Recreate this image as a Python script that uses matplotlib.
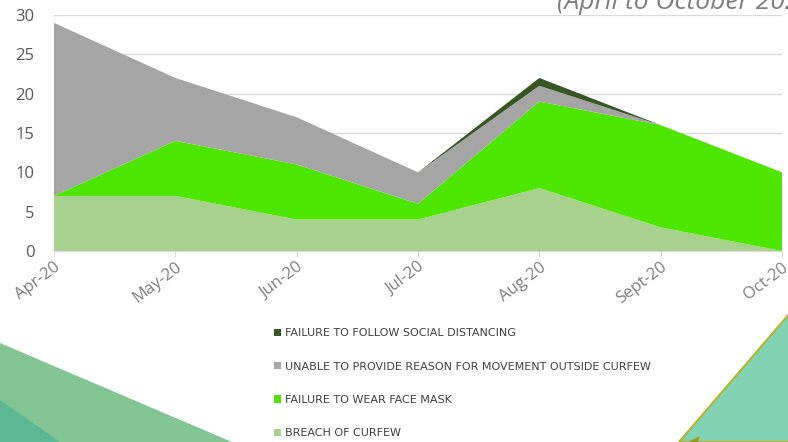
import matplotlib
matplotlib.use('Agg')
import matplotlib.pyplot as plt
from matplotlib.patches import Polygon, Patch
import numpy as np

# data (stacked areas)
months = ['Apr-20', 'May-20', 'Jun-20', 'Jul-20', 'Aug-20', 'Sept-20', 'Oct-20']
breach_curfew = [7, 7, 4, 4, 8, 3, 0]
face_mask = [0, 7, 7, 2, 11, 13, 10]
no_reason = [22, 8, 6, 4, 2, 0, 0]
social_dist = [0, 0, 0, 0, 1, 0, 0]

labels = ['BREACH OF CURFEW',
          'FAILURE TO WEAR FACE MASK',
          'UNABLE TO PROVIDE REASON FOR MOVEMENT OUTSIDE CURFEW',
          'FAILURE TO FOLLOW SOCIAL DISTANCING']
colors = ['#a9d18e', '#4ce600', '#a5a5a5', '#375623']

W, H = 788, 442
fig = plt.figure(figsize=(W / 100, H / 100), dpi=100)
fig.patch.set_facecolor('white')

def px(x, y):
    return (x / W, 1 - y / H)

# decorative background shapes
fig.patches.append(Polygon([px(0, 343), px(232, 442), px(0, 442)], closed=True,
                           transform=fig.transFigure, facecolor='#82c593',
                           edgecolor='none', zorder=0))
fig.patches.append(Polygon([px(0, 400), px(60, 442), px(0, 442)], closed=True,
                           transform=fig.transFigure, facecolor='#5bb894',
                           edgecolor='none', zorder=0))
fig.patches.append(Polygon([px(790, 313), px(790, 442), px(679, 442)], closed=True,
                           transform=fig.transFigure, facecolor='#80d4b4',
                           edgecolor='#b8b22a', linewidth=1.5, zorder=0))
fig.patches.append(Polygon([px(688, 442), px(700, 436), px(698, 442)], closed=True,
                           transform=fig.transFigure, facecolor='#9a9a20',
                           edgecolor='none', zorder=0))

ax = fig.add_axes([54 / W, 1 - 251 / H, (782 - 54) / W, (251 - 15) / H])
ax.set_facecolor('none')

x = np.arange(len(months))
ax.stackplot(x, breach_curfew, face_mask, no_reason, social_dist,
             colors=colors, linewidth=0, zorder=2)

ax.set_xlim(0, len(months) - 1)
ax.set_ylim(0, 30)
ax.set_yticks(range(0, 31, 5))
ax.yaxis.grid(True, color='#d9d9d9', linewidth=1, zorder=0)
ax.set_axisbelow(True)
for s in ['top', 'right', 'left']:
    ax.spines[s].set_visible(False)
ax.spines['bottom'].set_color('#d9d9d9')
ax.tick_params(axis='y', length=0, labelsize=12, labelcolor='#595959', pad=14)
ax.tick_params(axis='x', length=4, color='#d9d9d9', pad=2)
ax.set_xticks(x)
ax.set_xticklabels(months, rotation=37, ha='right', rotation_mode='anchor',
                   fontsize=12, color='#7f7f7f',
                   family=['Open Sans', 'DejaVu Sans'])
for t in ax.get_yticklabels():
    t.set_family(['Open Sans', 'DejaVu Sans'])

# partly cut title at the top right
fig.text(557 / W, 1 - 9 / H, '(April to October 2020)', fontsize=19,
         fontstyle='italic', color='#7f7f7f', family=['Open Sans', 'DejaVu Sans'],
         ha='left', va='baseline')

handles = [Patch(facecolor=c, edgecolor='none') for c in colors][::-1]
leg = fig.legend(handles, labels[::-1], loc='upper left',
                 bbox_to_anchor=(262 / W, 1 - 316 / H), frameon=False,
                 prop={'family': ['DejaVu Sans'], 'size': 8},
                 labelcolor='#404040', handlelength=0.6, handleheight=0.6,
                 handletextpad=0.4, labelspacing=2.1, borderpad=0.6)

fig.savefig('out.png', dpi=100)
